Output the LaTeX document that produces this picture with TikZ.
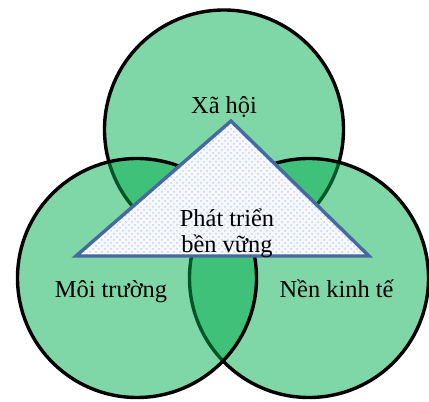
\documentclass[tikz,border=0pt]{standalone}
\usepackage{fontspec}
\setmainfont{Liberation Serif}
\usetikzlibrary{patterns}

\definecolor{venngreen}{RGB}{0,173,77}
\definecolor{triborder}{RGB}{70,106,160}
\definecolor{trifill}{RGB}{246,248,253}
\definecolor{tridots}{RGB}{196,210,236}

\begin{document}
\begin{tikzpicture}[x=0.5pt,y=-0.5pt,
  every node/.style={font=\fontsize{12.2}{13}\selectfont},
  venn/.style={shape=circle,minimum size=119.5pt,inner sep=0pt,draw,line width=1.7pt,fill=venngreen,fill opacity=0.5}]
\useasboundingbox (0,0) rectangle (429,402);

% the three circles
\path (224,129.5) node (society) [venn] {};
\path (309,278) node (economy) [venn] {};
\path (137,278) node (environment) [venn] {};

% triangle in the middle
\draw [line width=1.7pt,draw=triborder,preaction={fill=trifill},pattern=crosshatch dots,pattern color=tridots]
  (231,121) -- (369,256) -- (76,256) -- cycle;

\path (224,113) node (societylabel) [anchor=base] {Xã hội};
\path (227,233) node (sustainlabel) [align=center] {Phát triển\\bền vững};
\path (111,297) node (environmentlabel) [anchor=base] {Môi trường};
\path (336.5,297) node (economylabel) [anchor=base] {Nền kinh tế};
\end{tikzpicture}
\end{document}
